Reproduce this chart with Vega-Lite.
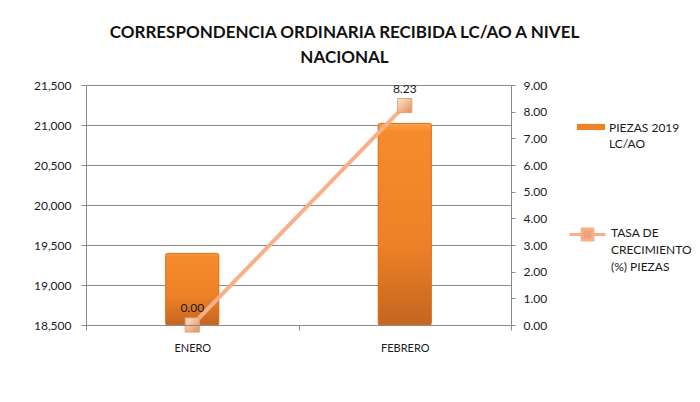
{
  "$schema": "https://vega.github.io/schema/vega-lite/v6.json",
  "autosize": "none",
  "width": 425,
  "height": 240,
  "padding": {"left": 86, "top": 85, "right": 189, "bottom": 77},
  "background": "white",
  "config": {
    "font": "Lato",
    "view": {"stroke": null},
    "axis": {"labelFont": "Lato", "labelColor": "#1a1a1a", "domainColor": "#8a8a8a", "tickColor": "#8a8a8a", "gridColor": "#8a8a8a", "titleFont": "Lato"},
    "legend": {"labelFont": "Lato", "labelColor": "#1a1a1a"}
  },
  "title": {
    "text": ["CORRESPONDENCIA ORDINARIA RECIBIDA LC/AO A NIVEL", "NACIONAL"],
    "anchor": "middle",
    "dx": 46,
    "offset": 12,
    "font": "Lato",
    "fontSize": 17,
    "fontWeight": "bold",
    "color": "#111111",
    "lineHeight": 25
  },
  "data": {
    "values": [
      {"mes": "ENERO", "piezas": 19395, "tasa": 0.00},
      {"mes": "FEBRERO", "piezas": 21020, "tasa": 8.23}
    ]
  },
  "encoding": {
    "x": {
      "field": "mes", "type": "nominal", "sort": null, "title": null,
      "scale": {"paddingInner": 0, "paddingOuter": 0},
      "axis": {"labelAngle": 0, "labelFontSize": 11, "tickBand": "extent", "tickSize": 5, "labelPadding": 12, "domainColor": "#8a8a8a", "zindex": 1}
    }
  },
  "layer": [
    {
      "mark": {"type": "bar", "width": {"band": 0.25}},
      "encoding": {
        "y": {
          "field": "piezas", "type": "quantitative",
          "scale": {"domain": [18500, 21500], "zero": false, "nice": false},
          "axis": {"title": null, "format": ",d", "values": [18500, 19000, 19500, 20000, 20500, 21000, 21500], "labelFontSize": 12, "tickSize": 5, "labelPadding": 10, "grid": true}
        },
        "y2": {"datum": 18500},
        "fill": {
          "datum": "PIEZAS 2019 LC/AO",
          "scale": {"range": ["#EF8227"]},
          "legend": {
            "title": null,
            "orient": "none",
            "legendX": 491,
            "legendY": 28,
            "symbolType": "M-1,-0.22H1V0.22H-1Z",
            "symbolSize": 784,
            "symbolStrokeWidth": 0,
            "labelOffset": 4,
            "labelFontSize": 12,
            "labelBaseline": "top",
            "labelLimit": 200,
            "labelExpr": "['PIEZAS 2019', 'LC/AO']",
            "encode": {
              "symbols": {"update": {"fill": {"value": {"gradient": "linear", "x1": 0, "y1": 0, "x2": 0, "y2": 1, "stops": [{"offset": 0, "color": "#F9A75A"}, {"offset": 0.5, "color": "#E98228"}, {"offset": 1, "color": "#B85E1E"}]}}}},
              "labels": {"update": {"dy": {"value": -4}, "lineHeight": {"value": 16}}}
            }
          }
        }
      }
    },
    {
      "mark": {
        "type": "bar", "width": {"band": 0.25}, "cornerRadius": 2,
        "stroke": "#D8701F", "strokeWidth": 1,
        "fill": {"gradient": "linear", "x1": 0, "y1": 0, "x2": 0, "y2": 1, "stops": [{"offset": 0, "color": "#FBA24E"}, {"offset": 0.04, "color": "#F68B2C"}, {"offset": 0.6, "color": "#EE8127"}, {"offset": 1, "color": "#C4651F"}]}
      },
      "encoding": {
        "y": {"field": "piezas", "type": "quantitative", "scale": {"domain": [18500, 21500], "zero": false, "nice": false}, "axis": null},
        "y2": {"datum": 18500}
      }
    },
    {
      "mark": {"type": "line", "strokeWidth": 4},
      "encoding": {
        "y": {
          "field": "tasa", "type": "quantitative",
          "scale": {"domain": [0, 9], "nice": false},
          "axis": {"title": null, "orient": "right", "format": ".2f", "values": [0, 1, 2, 3, 4, 5, 6, 7, 8, 9], "labelFontSize": 12, "tickSize": 4, "labelPadding": 8, "grid": false}
        },
        "stroke": {
          "datum": "TASA DE CRECIMIENTO (%) PIEZAS",
          "scale": {"range": ["#F7B08A"]},
          "legend": {
            "title": null,
            "orient": "none",
            "legendX": 482,
            "legendY": 130,
            "symbolType": "M-1,0H-0.3M0.3,0H1M-0.3,-0.3H0.3V0.3H-0.3Z",
            "symbolSize": 1296,
            "symbolStrokeWidth": 3,
            "labelOffset": 4,
            "labelFontSize": 12,
            "labelBaseline": "top",
            "labelLimit": 200,
            "labelExpr": "['TASA DE', 'CRECIMIENTO', '(%) PIEZAS']",
            "encode": {"symbols": {"update": {"fill": {"value": "#F0A277"}}}, "labels": {"update": {"dy": {"value": -7}, "lineHeight": {"value": 17}}}}
          }
        }
      }
    },
    {
      "mark": {
        "type": "point", "shape": "square", "filled": true, "size": 200, "opacity": 1,
        "fill": {"gradient": "linear", "x1": 0, "y1": 0, "x2": 1, "y2": 1, "stops": [{"offset": 0, "color": "#FDE6D3"}, {"offset": 1, "color": "#E58D55"}]},
        "stroke": "#E3A07A", "strokeWidth": 1
      },
      "encoding": {
        "y": {"field": "tasa", "type": "quantitative", "scale": {"domain": [0, 9], "nice": false}, "axis": null}
      }
    },
    {
      "mark": {"type": "text", "dy": -17, "fontSize": 12, "font": "Lato", "color": "#1a1a1a"},
      "encoding": {
        "y": {"field": "tasa", "type": "quantitative", "scale": {"domain": [0, 9], "nice": false}, "axis": null},
        "text": {"field": "tasa", "type": "quantitative", "format": ".2f"}
      }
    }
  ],
  "resolve": {"scale": {"y": "independent"}}
}
